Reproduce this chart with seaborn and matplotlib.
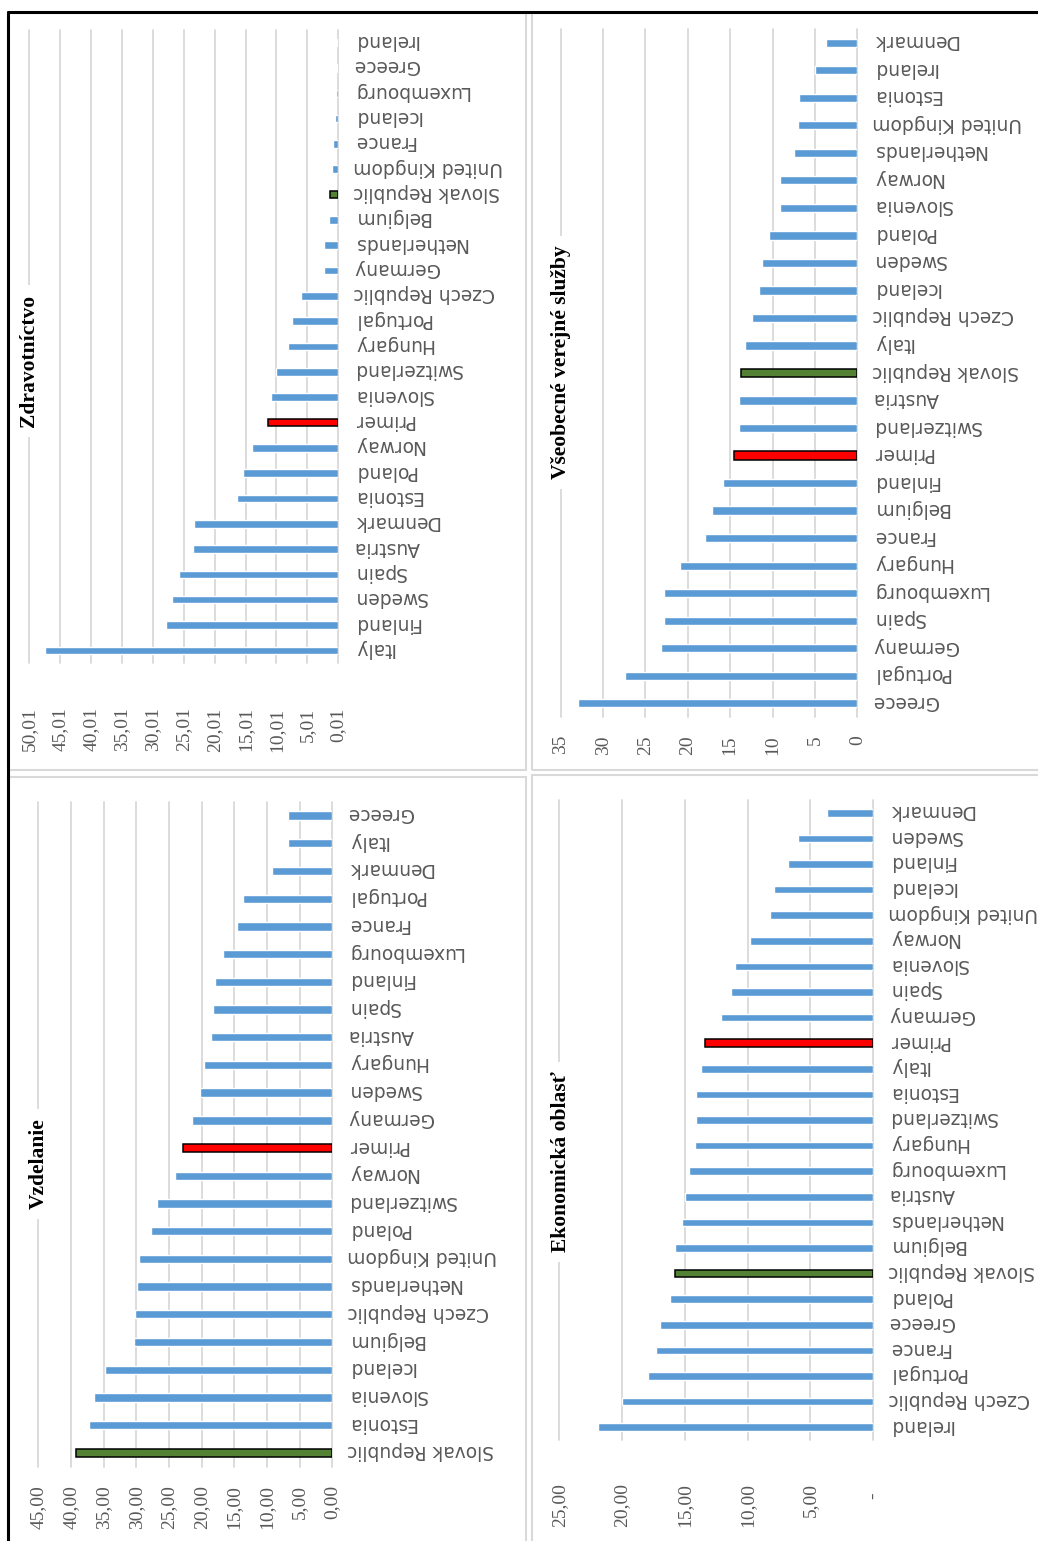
import matplotlib
matplotlib.use("Agg")
import matplotlib.pyplot as plt
from matplotlib.patches import Rectangle
from matplotlib.lines import Line2D
from matplotlib.transforms import blended_transform_factory, ScaledTranslation
import seaborn as sns
import pandas as pd

sns.set_style("white")
plt.rcParams["font.family"] = ["DejaVu Sans"]

# ---- data (categories listed top to bottom) ----
zdrav_countries = ["Ireland", "Greece", "Luxembourg", "Iceland", "France", "United Kingdom",
                   "Slovak Republic", "Belgium", "Netherlands", "Germany", "Czech Republic",
                   "Portugal", "Hungary", "Switzerland", "Slovenia", "Primer", "Norway",
                   "Poland", "Estonia", "Denmark", "Austria", "Spain", "Sweden", "Finland", "Italy"]
zdrav_values = [0.3, 0.3, 0.45, 0.6, 0.8, 0.95, 1.35, 1.5, 2.3, 2.3, 6.0, 7.5, 8.2, 10.1,
                10.9, 11.4, 13.9, 15.4, 16.4, 23.3, 23.5, 25.7, 26.9, 27.9, 47.4]
zdrav_ticks = [0.01, 5.01, 10.01, 15.01, 20.01, 25.01, 30.01, 35.01, 40.01, 45.01, 50.01]
zdrav_ticklabels = ["0,01", "5,01", "10,01", "15,01", "20,01", "25,01", "30,01", "35,01",
                    "40,01", "45,01", "50,01"]

sluzby_countries = ["Denmark", "Ireland", "Estonia", "United Kingdom", "Netherlands", "Norway",
                    "Slovenia", "Poland", "Sweden", "Iceland", "Czech Republic", "Italy",
                    "Slovak Republic", "Austria", "Switzerland", "Primer", "Finland", "Belgium",
                    "France", "Hungary", "Luxembourg", "Spain", "Germany", "Portugal", "Greece"]
sluzby_values = [3.7, 5.0, 6.9, 7.0, 7.5, 9.1, 9.1, 10.4, 11.2, 11.6, 12.4, 13.3, 13.7, 14.0,
                 14.0, 14.6, 15.8, 17.2, 18.0, 20.9, 22.8, 22.8, 23.2, 27.4, 32.9]
sluzby_ticks = [0, 5, 10, 15, 20, 25, 30, 35]
sluzby_ticklabels = ["0", "5", "10", "15", "20", "25", "30", "35"]

vzdel_countries = ["Greece", "Italy", "Denmark", "Portugal", "France", "Luxembourg", "Finland",
                   "Spain", "Austria", "Hungary", "Sweden", "Germany", "Primer", "Norway",
                   "Switzerland", "Poland", "United Kingdom", "Netherlands", "Czech Republic",
                   "Belgium", "Iceland", "Slovenia", "Estonia", "Slovak Republic"]
vzdel_values = [6.8, 6.8, 9.2, 13.7, 14.6, 16.7, 18.0, 18.2, 18.6, 19.7, 20.2, 21.5, 22.9,
                24.1, 26.8, 27.7, 29.6, 29.9, 30.2, 30.4, 34.8, 36.5, 37.2, 39.2]
vzdel_ticks = [0, 5, 10, 15, 20, 25, 30, 35, 40, 45]
vzdel_ticklabels = ["0,00", "5,00", "10,00", "15,00", "20,00", "25,00", "30,00", "35,00",
                    "40,00", "45,00"]

ekon_countries = ["Denmark", "Sweden", "Finland", "Iceland", "United Kingdom", "Norway",
                  "Slovenia", "Spain", "Germany", "Primer", "Italy", "Estonia", "Switzerland",
                  "Hungary", "Luxembourg", "Austria", "Netherlands", "Belgium", "Slovak Republic",
                  "Poland", "Greece", "France", "Portugal", "Czech Republic", "Ireland"]
ekon_values = [3.66, 6.0, 6.8, 7.9, 8.2, 9.8, 11.0, 11.3, 12.1, 13.4, 13.7, 14.1, 14.1, 14.2,
               14.7, 15.0, 15.2, 15.8, 15.8, 16.2, 17.0, 17.3, 17.9, 20.0, 21.9]
ekon_ticks = [0, 5, 10, 15, 20, 25]
ekon_ticklabels = ["-  ", "5,00", "10,00", "15,00", "20,00", "25,00"]

titles = ["Zdravotníctvo", "Všeobecné verejné služby", "Vzdelanie", "Ekonomická oblasť"]

# ---- styling ----
BLUE = "#5B9BD5"
RED = "#FF0000"
GREEN = "#548235"
GRID = "#D9D9D9"
TEXT = "#595959"

W, H = 1038, 1541
fig = plt.figure(figsize=(W / 100, H / 100), dpi=100)


def px_rect(x0, y0, x1, y1):
    """Figure-fraction rectangle from pixel coordinates (origin top-left)."""
    return [x0 / W, 1 - y1 / H, (x1 - x0) / W, (y1 - y0) / H]


def draw_panel(rect, countries, values, lo, hi, ticks, ticklabels, tick_pad):
    ax = fig.add_axes(px_rect(*rect))
    df = pd.DataFrame({"country": countries, "value": values})
    palette = {c: RED if c == "Primer" else GREEN if c == "Slovak Republic" else BLUE
               for c in countries}
    sns.barplot(data=df, x="value", y="country", hue="country", palette=palette,
                orient="h", width=0.3, saturation=1, legend=False, ax=ax, zorder=3)
    for p in ax.patches:
        idx = int(round(p.get_y() + p.get_height() / 2))
        if countries[idx] in ("Primer", "Slovak Republic"):
            p.set_edgecolor("black")
            p.set_linewidth(1.1)
    n = len(countries)
    ax.set_ylim(n - 0.5, -0.5)
    ax.set_xlim(hi, lo)
    ax.set_xticks(ticks)
    ax.set_xticklabels(ticklabels, rotation=90, family="Liberation Serif",
                       fontsize=14, color=TEXT)
    ax.tick_params(axis="x", length=0, pad=tick_pad)
    ax.set_yticks([])
    ax.set_xlabel("")
    ax.set_ylabel("")
    # category names, upside down, just right of the baseline
    trans = blended_transform_factory(ax.transAxes, ax.transData) + \
        ScaledTranslation(15 / 100, 0, fig.dpi_scale_trans)
    for i, c in enumerate(countries):
        ax.text(1.0, i, c, transform=trans, rotation=180, rotation_mode="anchor",
                ha="right", va="center_baseline", fontsize=13.4, color=TEXT)
    ax.grid(axis="x", color=GRID, linewidth=1.3, zorder=0)
    ax.grid(axis="y", visible=False)
    for gl in ax.get_xgridlines():
        gl.set_clip_on(False)
    for s in ax.spines.values():
        s.set_visible(False)
    return ax


draw_panel((29, 30, 338.3, 663), zdrav_countries, zdrav_values, 0.01, 50.01,
           zdrav_ticks, zdrav_ticklabels, 32)
draw_panel((560.7, 29, 857.3, 717), sluzby_countries, sluzby_values, 0, 35,
           sluzby_ticks, sluzby_ticklabels, 13)
draw_panel((38.3, 801.7, 332.3, 1466.7), vzdel_countries, vzdel_values, 0, 45,
           vzdel_ticks, vzdel_ticklabels, 13)
draw_panel((559.3, 800, 873.3, 1440), ekon_countries, ekon_values, 0, 25,
           ekon_ticks, ekon_ticklabels, 31)

# panel titles, sitting over the outermost gridline
title_pos = [(29, 361), (561, 362), (38.5, 1164), (561, 1162)]
for t, (x, y) in zip(titles, title_pos):
    fig.text(x / W, 1 - y / H, t, rotation=90, ha="center", va="center",
             family="Liberation Serif", weight="bold", fontsize=15.5, color="black",
             bbox=dict(boxstyle="square,pad=0.45", facecolor="white", edgecolor="none"),
             zorder=5)

# chart-area borders
for x0, y0, x1, y1 in [(8, 13, 526, 770), (532, 13, 1045, 770),
                       (8, 777, 526, 1550), (532, 775, 1045, 1550)]:
    fig.add_artist(Rectangle((x0 / W, 1 - y1 / H), (x1 - x0) / W, (y1 - y0) / H,
                             transform=fig.transFigure, facecolor="none",
                             edgecolor=GRID, linewidth=1.5, zorder=1))

# outer frame
fig.add_artist(Line2D([8 / W, 1], [1 - 12 / H, 1 - 12 / H], transform=fig.transFigure,
                      color="black", linewidth=2.2, zorder=6))
fig.add_artist(Line2D([8 / W, 8 / W], [0, 1 - 12 / H], transform=fig.transFigure,
                      color="black", linewidth=2.2, zorder=6))

fig.savefig("out.png", dpi=100, facecolor="white")
